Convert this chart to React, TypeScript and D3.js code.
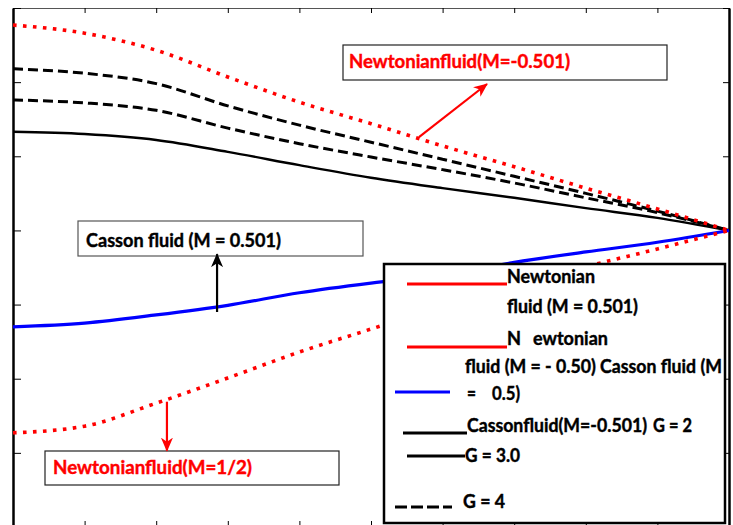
import { useEffect, useRef } from "react"
import * as d3 from "d3"

// x positions (0..1) shared by all curves
const xValues = [0, 0.1, 0.2, 0.3, 0.4, 0.5, 0.6, 0.7, 0.8, 0.9, 1]

// Newtonian fluid (M = -0.501), red dotted, upper
const newtonianUpper = [6.77, 6.66, 6.43, 6.07, 5.73, 5.44, 5.14, 4.86, 4.57, 4.29, 4.0]
// Casson fluid, G = 4 (upper dashed)
const cassonG4 = [6.18, 6.12, 5.98, 5.68, 5.42, 5.19, 4.96, 4.73, 4.5, 4.26, 4.0]
// Casson fluid, G = 3 (lower dashed)
const cassonG3 = [5.76, 5.72, 5.62, 5.38, 5.17, 4.99, 4.82, 4.64, 4.44, 4.24, 4.0]
// Casson fluid, G = 2 (solid black)
const cassonG2 = [5.33, 5.3, 5.22, 5.06, 4.88, 4.71, 4.57, 4.44, 4.3, 4.17, 4.0]
// Casson fluid (M = 0.501), blue
const cassonPos = [2.7, 2.75, 2.86, 2.99, 3.16, 3.29, 3.4, 3.57, 3.71, 3.84, 4.0]
// Newtonian fluid (M = 1/2), red dotted, lower
const newtonianLower = [1.27, 1.36, 1.67, 2.01, 2.36, 2.67, 2.98, 3.24, 3.51, 3.75, 4.0]

const xTicks = [0, 0.1, 0.2, 0.3, 0.4, 0.5, 0.6, 0.7, 0.8, 0.9, 1]
const yTicks = [0, 1, 2, 3, 4, 5, 6, 7]

const FONT = "Lato, 'Open Sans', sans-serif"

export default function App() {
  const svgRef = useRef<SVGSVGElement>(null)

  useEffect(() => {
    if (!svgRef.current) return
    d3.select(svgRef.current).selectAll("*").remove()

    const width = 733
    const height = 525
    const left = 13
    const right = 729
    const top = 8
    const bottom = 527

    const svg = d3.select(svgRef.current).attr("width", width).attr("height", height)

    const x = d3.scaleLinear().domain([0, 1]).range([left, right])
    const y = d3.scaleLinear().domain([0, 7]).range([bottom, top])

    // arrow markers
    const defs = svg.append("defs")
    const addMarker = (id: string, color: string) => {
      defs
        .append("marker")
        .attr("id", id)
        .attr("viewBox", "0 0 14 12")
        .attr("refX", 13)
        .attr("refY", 6)
        .attr("markerWidth", 14)
        .attr("markerHeight", 12)
        .attr("markerUnits", "userSpaceOnUse")
        .attr("orient", "auto")
        .append("path")
        .attr("d", "M0,0 L14,6 L0,12 L4,6 Z")
        .attr("fill", color)
    }
    addMarker("arrowRed", "#ff0000")
    addMarker("arrowBlack", "#000")

    // frame + ticks
    svg
      .append("g")
      .attr("transform", `translate(0,${top})`)
      .call(d3.axisBottom(x).tickValues(xTicks).tickSize(5).tickSizeOuter(0).tickFormat(() => ""))
      .call((g) => g.select(".domain").attr("stroke", "#555").attr("stroke-width", 1))
    svg
      .append("g")
      .attr("transform", `translate(0,${bottom})`)
      .call(d3.axisTop(x).tickValues(xTicks).tickSize(6).tickSizeOuter(0).tickFormat(() => ""))
    svg
      .append("g")
      .attr("transform", `translate(${left},0)`)
      .call(d3.axisRight(y).tickValues(yTicks).tickSize(8).tickSizeOuter(0).tickFormat(() => ""))
      .call((g) => g.select(".domain").attr("stroke-width", 2.5))
    svg
      .append("g")
      .attr("transform", `translate(${right},0)`)
      .call(d3.axisLeft(y).tickValues(yTicks).tickSize(6).tickSizeOuter(0).tickFormat(() => ""))
      .call((g) => g.select(".domain").attr("stroke-width", 2.5))

    const line = d3
      .line<number>()
      .x((d, i) => x(xValues[i]))
      .y((d) => y(d))
      .curve(d3.curveMonotoneX)

    const series = [
      { values: cassonG2, color: "#000", width: 2.4, dash: null },
      { values: cassonG3, color: "#000", width: 3, dash: "10,5" },
      { values: cassonG4, color: "#000", width: 3, dash: "10,5" },
      { values: cassonPos, color: "#0000ff", width: 3.2, dash: null },
      { values: newtonianUpper, color: "#ff0000", width: 3.6, dash: "3.6,6.4" },
      { values: newtonianLower, color: "#ff0000", width: 3.6, dash: "3.6,6.4" },
    ]

    svg
      .selectAll(".curve")
      .data(series)
      .enter()
      .append("path")
      .attr("class", "curve")
      .attr("d", (d) => line(d.values))
      .attr("fill", "none")
      .attr("stroke", (d) => d.color)
      .attr("stroke-width", (d) => d.width)
      .attr("stroke-dasharray", (d) => d.dash)

    const addText = (
      g: d3.Selection<any, unknown, null, undefined>,
      tx: number,
      ty: number,
      str: string,
      len: number,
      color = "#000"
    ) => {
      g.append("text")
        .attr("x", tx)
        .attr("y", ty)
        .attr("textLength", len)
        .attr("lengthAdjust", "spacingAndGlyphs")
        .attr("fill", color)
        .attr("stroke", color)
        .attr("stroke-width", 0.4)
        .style("font-family", FONT)
        .style("font-weight", "bold")
        .style("font-size", "18px")
        .text(str)
    }

    // annotations
    const ann = svg.append("g")
    const box = (bx: number, by: number, bw: number, bh: number, stroke: string) =>
      ann
        .append("rect")
        .attr("x", bx)
        .attr("y", by)
        .attr("width", bw)
        .attr("height", bh)
        .attr("fill", "#fff")
        .attr("stroke", stroke)
        .attr("stroke-width", 1.2)

    box(343, 45, 324, 35, "#222")
    addText(ann, 349, 68, "Newtonianfluid(M=-0.501)", 221, "#ff0000")
    box(78, 221, 285, 35, "#555")
    addText(ann, 86, 247, "Casson fluid (M = 0.501)", 195)
    box(45, 451, 294, 34, "#222")
    addText(ann, 53, 474, "Newtonianfluid(M=1/2)", 199, "#ff0000")

    const arrow = (x1: number, y1: number, x2: number, y2: number, color: string, marker: string) =>
      ann
        .append("line")
        .attr("x1", x(x1))
        .attr("y1", y(y1))
        .attr("x2", x(x2))
        .attr("y2", y(y2))
        .attr("stroke", color)
        .attr("stroke-width", 2.2)
        .attr("marker-end", `url(#${marker})`)

    arrow(0.567, 5.26, 0.662, 5.975, "#ff0000", "arrowRed")
    arrow(0.285, 2.9, 0.285, 3.68, "#000", "arrowBlack")
    arrow(0.215, 1.69, 0.215, 1.03, "#ff0000", "arrowRed")

    // legend
    const lg = svg.append("g")
    lg.append("rect")
      .attr("x", 384)
      .attr("y", 264)
      .attr("width", 341)
      .attr("height", 259)
      .attr("fill", "#fff")
      .attr("stroke", "#000")
      .attr("stroke-width", 2.5)

    const legLine = (x1: number, x2: number, ly: number, color: string, dash: string | null) =>
      lg
        .append("line")
        .attr("x1", x1)
        .attr("x2", x2)
        .attr("y1", ly)
        .attr("y2", ly)
        .attr("stroke", color)
        .attr("stroke-width", 3)
        .attr("stroke-dasharray", dash)

    legLine(407, 507, 284, "#ff0000", null)
    addText(lg, 507, 283, "Newtonian", 88)
    addText(lg, 507, 313, "fluid (M = 0.501)", 131)
    legLine(407, 507, 347, "#ff0000", null)
    addText(lg, 507, 345, "N", 14)
    addText(lg, 533, 345, "ewtonian", 75)
    addText(lg, 465, 373, "fluid (M = - 0.50) Casson fluid (M", 257)
    legLine(395, 450, 392, "#0000ff", null)
    addText(lg, 467, 400, "=", 9)
    addText(lg, 492, 400, "0.5)", 28)
    legLine(403, 467, 433, "#000", null)
    addText(lg, 467, 432, "Cassonfluid(M=-0.501)", 180)
    addText(lg, 653, 432, "G = 2", 39)
    legLine(407, 465, 456, "#000", null)
    addText(lg, 465, 462, "G = 3.0", 55)
    legLine(395, 452, 507, "#000", "12,4")
    addText(lg, 463, 508, "G = 4", 42)
  }, [])

  return (
    <svg
      ref={svgRef}
      style={{ position: "absolute", left: 0, top: 0, display: "block", background: "#fff" }}
    ></svg>
  )
}
